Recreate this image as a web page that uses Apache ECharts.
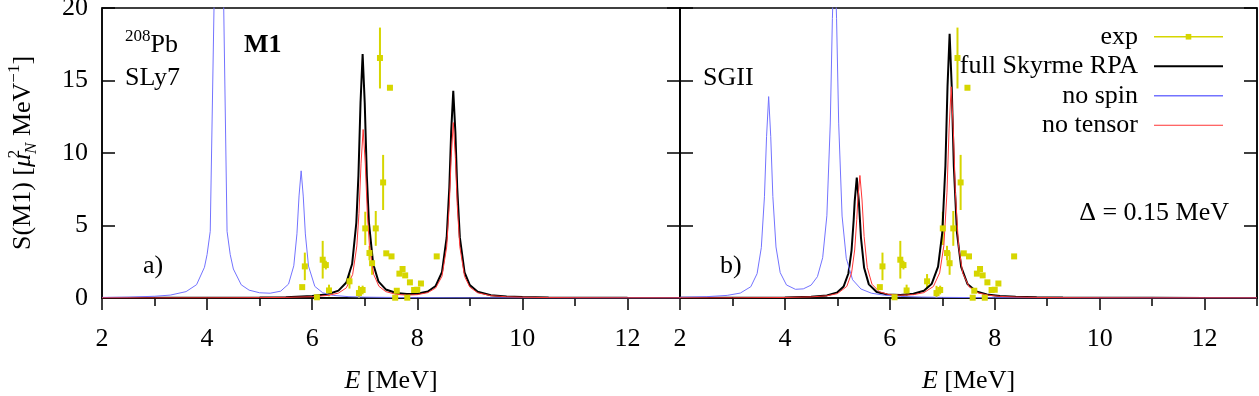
<!DOCTYPE html>
<html>
<head>
<meta charset="utf-8">
<script src="https://cdn.jsdelivr.net/npm/echarts@6/dist/echarts.min.js"></script>
<style>
  html, body { margin: 0; padding: 0; background: #fff; }
  #chart { width: 1259px; height: 396px; }
</style>
</head>
<body>
<div id="chart"></div>
<script>
// experimental points (same in both panels)
const expE = [5.81, 5.86, 6.09, 6.20, 6.26, 6.32, 6.71, 6.89, 6.96, 7.01, 7.09, 7.14, 7.21, 7.29, 7.35, 7.41, 7.48, 7.51, 7.58, 7.61, 7.66, 7.72, 7.77, 7.81, 7.86, 7.94, 8.00, 8.07, 8.37];
const expS = [0.75, 2.18, 0.05, 2.64, 2.27, 0.52, 1.15, 0.34, 0.55, 4.80, 3.10, 2.40, 4.80, 16.55, 7.97, 3.08, 14.50, 2.87, 0.02, 0.50, 1.68, 2.00, 1.56, 0.02, 1.08, 0.55, 0.57, 1.00, 2.87];
const expErr = [0, 0.95, 0, 1.3, 0.3, 0.4, 0.5, 0.5, 0.3, 1.15, 0.5, 0.8, 1.2, 2.1, 1.9, 0, 0, 0, 0, 0, 0, 0, 0, 0, 0, 0, 0, 0, 0];

// a) SLy7
const slyFullE = [2, 3, 4, 5, 5.5, 6, 6.3, 6.5, 6.65, 6.76, 6.84, 6.88, 6.92, 6.96, 7.0, 7.04, 7.08, 7.16, 7.26, 7.4, 7.6, 7.8, 8.0, 8.2, 8.35, 8.47, 8.56, 8.61, 8.645, 8.685, 8.725, 8.76, 8.81, 8.9, 9.0, 9.15, 9.4, 9.7, 10, 10.5, 11, 12, 13];
const slyFullS = [0.006, 0.01, 0.016, 0.035, 0.06, 0.13, 0.26, 0.51, 1.07, 2.34, 5.19, 8.42, 13.46, 16.83, 13.47, 8.43, 5.2, 2.36, 1.15, 0.59, 0.34, 0.27, 0.29, 0.45, 0.83, 1.78, 4.19, 7.62, 11.44, 14.29, 11.44, 7.62, 4.18, 1.76, 0.89, 0.43, 0.19, 0.10, 0.065, 0.037, 0.024, 0.013, 0.008];
const slyNoSpinE = [2, 2.5, 3, 3.3, 3.6, 3.8, 3.95, 4.0, 4.06, 4.15, 4.22, 4.3, 4.38, 4.44, 4.5, 4.65, 4.8, 5.0, 5.2, 5.4, 5.55, 5.65, 5.71, 5.75, 5.79, 5.83, 5.87, 5.93, 6.05, 6.2, 6.4, 6.7, 7, 8, 9, 10, 11, 12, 13];
const slyNoSpinS = [0.04, 0.06, 0.12, 0.2, 0.44, 0.92, 2.12, 3.0, 4.6, 24, 30, 24, 4.6, 3.0, 2.0, 0.91, 0.54, 0.36, 0.33, 0.47, 0.96, 2.22, 4.43, 7.04, 8.77, 7.03, 4.42, 2.2, 0.8, 0.36, 0.18, 0.09, 0.06, 0.02, 0.01, 0.01, 0.005, 0.005, 0.004];
const slyNoTensorE = [2, 3, 4, 5, 5.5, 6, 6.3, 6.5, 6.65, 6.77, 6.85, 6.89, 6.93, 6.97, 7.01, 7.05, 7.09, 7.17, 7.27, 7.4, 7.6, 7.8, 8.0, 8.2, 8.35, 8.47, 8.56, 8.61, 8.645, 8.685, 8.725, 8.76, 8.81, 8.9, 9.0, 9.15, 9.4, 9.7, 10, 10.5, 11, 12, 13];
const slyNoTensorS = [0.005, 0.007, 0.012, 0.025, 0.042, 0.089, 0.18, 0.34, 0.70, 1.62, 3.59, 5.82, 9.3, 11.62, 9.3, 5.82, 3.6, 1.63, 0.81, 0.44, 0.25, 0.2, 0.23, 0.37, 0.69, 1.5, 3.53, 6.45, 9.69, 12.1, 9.69, 6.45, 3.53, 1.49, 0.75, 0.36, 0.16, 0.085, 0.053, 0.03, 0.02, 0.01, 0.006];

// b) SGII
const sg2FullE = [2, 3, 4, 4.5, 4.8, 5.0, 5.12, 5.21, 5.27, 5.31, 5.33, 5.37, 5.41, 5.45, 5.51, 5.6, 5.75, 5.95, 6.2, 6.45, 6.65, 6.8, 6.92, 7.0, 7.06, 7.1, 7.14, 7.18, 7.22, 7.28, 7.36, 7.48, 7.65, 7.85, 8.1, 8.4, 8.8, 9.3, 10, 11, 12, 13];
const sg2FullS = [0.009, 0.016, 0.04, 0.087, 0.18, 0.39, 0.8, 1.69, 3.26, 5.33, 6.65, 8.31, 6.65, 4.17, 2.08, 0.94, 0.41, 0.24, 0.21, 0.29, 0.5, 0.99, 2.16, 4.5, 9.12, 14.58, 18.22, 14.58, 9.12, 4.5, 2.15, 0.97, 0.45, 0.24, 0.13, 0.08, 0.047, 0.029, 0.017, 0.01, 0.007, 0.005];
const sg2NoSpinE = [2, 2.5, 2.9, 3.15, 3.35, 3.47, 3.55, 3.61, 3.65, 3.69, 3.73, 3.77, 3.83, 3.91, 4.03, 4.2, 4.35, 4.5, 4.62, 4.72, 4.8, 4.865, 4.905, 4.945, 4.985, 5.025, 5.09, 5.17, 5.29, 5.45, 5.65, 5.9, 6.2, 6.6, 7, 8, 9, 10, 11, 12, 13];
const sg2NoSpinS = [0.05, 0.09, 0.18, 0.34, 0.78, 1.68, 3.47, 6.98, 11.12, 13.89, 11.13, 7.0, 3.52, 1.75, 0.9, 0.6, 0.63, 0.89, 1.47, 2.78, 5.67, 12.07, 19.27, 24.07, 19.26, 12.06, 5.65, 2.74, 1.26, 0.62, 0.33, 0.19, 0.11, 0.066, 0.044, 0.02, 0.01, 0.007, 0.005, 0.004, 0.003];
const sg2NoTensorE = [2, 3, 4, 4.5, 4.8, 5.0, 5.18, 5.27, 5.33, 5.37, 5.39, 5.43, 5.47, 5.51, 5.57, 5.66, 5.8, 5.98, 6.2, 6.45, 6.65, 6.83, 6.95, 7.03, 7.09, 7.13, 7.17, 7.21, 7.25, 7.31, 7.39, 7.51, 7.68, 7.88, 8.1, 8.4, 8.8, 9.3, 10, 11, 12, 13];
const sg2NoTensorS = [0.008, 0.014, 0.035, 0.075, 0.15, 0.3, 0.8, 1.71, 3.31, 5.42, 6.76, 8.45, 6.76, 4.24, 2.11, 0.95, 0.43, 0.24, 0.19, 0.23, 0.37, 0.79, 1.73, 3.6, 7.3, 11.66, 14.57, 11.66, 7.3, 3.6, 1.72, 0.78, 0.36, 0.19, 0.11, 0.067, 0.04, 0.024, 0.015, 0.008, 0.006, 0.004];

const xTicks = [2, 4, 6, 8, 10, 12];
const yTicks = [0, 5, 10, 15, 20];

const FONT = "'Liberation Serif', 'DejaVu Serif', serif";
const YELLOW = '#d6d600';
const BLUE = '#7373ff';
const RED = '#ff3535';
const BLACK = '#000000';
const textBase = { fontFamily: FONT, fontSize: 26, color: BLACK };

const zip = (xs, ys) => xs.map((x, i) => [x, ys[i]]);

// vertical error bar, clipped to the plot range
const renderErrBar = (params, api) => {
  const e = api.value(2);
  if (!e) {
    return null;
  }
  const x = api.value(0);
  const y = api.value(1);
  const lo = api.coord([x, Math.max(yTicks[0], y - e)]);
  const hi = api.coord([x, Math.min(yTicks[yTicks.length - 1], y + e)]);
  return {
    type: 'line',
    shape: { x1: lo[0], y1: lo[1], x2: hi[0], y2: hi[1] },
    style: { stroke: YELLOW, lineWidth: 2 }
  };
};

// major axis with labels + an overlay axis that only carries the 1 MeV minor ticks
const makeXAxes = (gridIndex) => [
  {
    gridIndex,
    type: 'value',
    position: 'bottom',
    min: xTicks[0],
    max: 13,
    interval: xTicks[1] - xTicks[0],
    axisLine: { show: true, onZero: false, lineStyle: { color: BLACK, width: 1.5 } },
    axisTick: { show: true, length: 12, lineStyle: { color: BLACK, width: 1.5 } },
    axisLabel: { ...textBase, margin: 28, showMaxLabel: false },
    splitLine: { show: false },
    name: '{i|E} [MeV]',
    nameLocation: 'middle',
    nameGap: 70,
    nameTextStyle: { ...textBase, rich: { i: { ...textBase, fontStyle: 'italic' } } }
  },
  {
    gridIndex,
    type: 'value',
    position: 'bottom',
    min: xTicks[0],
    max: 13,
    interval: 1,
    axisLine: { show: false, onZero: false },
    axisTick: { show: true, length: 8, lineStyle: { color: BLACK, width: 1.5 } },
    axisLabel: { show: false },
    splitLine: { show: false }
  }
];

const makeYAxis = (gridIndex, position, withLabels) => ({
  gridIndex,
  type: 'value',
  position,
  min: yTicks[0],
  max: yTicks[yTicks.length - 1],
  interval: yTicks[1] - yTicks[0],
  axisLine: { show: true, lineStyle: { color: BLACK, width: 1.5 } },
  axisTick: { show: true, inside: true, length: 13, lineStyle: { color: BLACK, width: 1.5 } },
  axisLabel: withLabels ? { ...textBase, margin: 14 } : { show: false },
  splitLine: { show: false }
});

const yName = {
  name: 'S(M1) [{mu|μ}{sup|2}{sub|N} MeV{sup2|−1}]',
  nameLocation: 'middle',
  nameRotate: 90,
  nameGap: 62,
  nameTextStyle: {
    ...textBase,
    lineHeight: 34,
    rich: {
      mu: { ...textBase, fontStyle: 'italic', lineHeight: 34 },
      sup: { fontFamily: FONT, fontSize: 17, color: BLACK, verticalAlign: 'top', width: 0 },
      sub: { fontFamily: FONT, fontSize: 17, color: BLACK, fontStyle: 'italic', verticalAlign: 'bottom' },
      sup2: { fontFamily: FONT, fontSize: 17, color: BLACK, verticalAlign: 'top' }
    }
  }
};

const curve = (name, xi, yi, xs, ys, color, width) => ({
  name,
  type: 'line',
  xAxisIndex: xi,
  yAxisIndex: yi,
  data: zip(xs, ys),
  symbol: 'none',
  lineStyle: { color, width },
  itemStyle: { color }
});

const panelSeries = (xi, yi, full, noSpin, noTensor) => [
  {
    name: 'exp',
    type: 'line',
    xAxisIndex: xi,
    yAxisIndex: yi,
    data: zip(expE, expS),
    symbol: 'rect',
    symbolSize: 6,
    lineStyle: { width: 0, opacity: 0 },
    itemStyle: { color: YELLOW }
  },
  {
    name: 'exp error',
    type: 'custom',
    xAxisIndex: xi,
    yAxisIndex: yi,
    data: expE.map((x, i) => [x, expS[i], expErr[i]]),
    encode: { x: 0, y: 1 },
    renderItem: renderErrBar
  },
  curve('full Skyrme RPA', xi, yi, full[0], full[1], BLACK, 2),
  curve('no spin', xi, yi, noSpin[0], noSpin[1], BLUE, 1),
  curve('no tensor', xi, yi, noTensor[0], noTensor[1], RED, 1)
];

const label = (text, x, y, extra) => ({
  type: 'text',
  x,
  y,
  style: { text, fill: BLACK, font: '26px ' + FONT, verticalAlign: 'middle', ...extra }
});

const option = {
  animation: false,
  grid: [
    { left: 102, top: 8, width: 578, height: 290, show: true, borderColor: BLACK, borderWidth: 1.5, outerBoundsMode: 'none' },
    { left: 680, top: 8, width: 577, height: 290, show: true, borderColor: BLACK, borderWidth: 1.5, outerBoundsMode: 'none' }
  ],
  xAxis: [...makeXAxes(0), ...makeXAxes(1)],
  yAxis: [
    { ...makeYAxis(0, 'left', true), ...yName },
    makeYAxis(0, 'right', false),
    makeYAxis(1, 'left', false),
    makeYAxis(1, 'right', false)
  ],
  legend: {
    right: 30,
    top: 17,
    orient: 'vertical',
    align: 'right',
    itemWidth: 69,
    itemHeight: 7,
    itemGap: 0,
    selectedMode: false,
    textStyle: { ...textBase, lineHeight: 29.5, padding: [0, 11, 0, 0] },
    data: [
      { name: 'exp', lineStyle: { width: 1.5, opacity: 1, color: YELLOW } },
      { name: 'full Skyrme RPA', lineStyle: { width: 2 }, itemStyle: { opacity: 0 } },
      { name: 'no spin', lineStyle: { width: 1.5 }, itemStyle: { opacity: 0 } },
      { name: 'no tensor', lineStyle: { width: 1 }, itemStyle: { opacity: 0 } }
    ]
  },
  graphic: [
    label('{sup|208}Pb', 125, 45, {
      lineHeight: 34,
      rich: { sup: { fontFamily: FONT, fontSize: 17, fill: BLACK, verticalAlign: 'top' } }
    }),
    label('M1', 244, 45, { font: 'bold 26px ' + FONT }),
    label('SLy7', 125, 78),
    label('a)', 143, 266),
    label('SGII', 703, 78),
    label('b)', 720, 266),
    label('Δ = 0.15 MeV', 1229, 213, { align: 'right' })
  ],
  series: [
    ...panelSeries(0, 0, [slyFullE, slyFullS], [slyNoSpinE, slyNoSpinS], [slyNoTensorE, slyNoTensorS]),
    ...panelSeries(2, 2, [sg2FullE, sg2FullS], [sg2NoSpinE, sg2NoSpinS], [sg2NoTensorE, sg2NoTensorS])
  ]
};

const chart = echarts.init(document.getElementById('chart'));
chart.setOption(option);
</script>
</body>
</html>
